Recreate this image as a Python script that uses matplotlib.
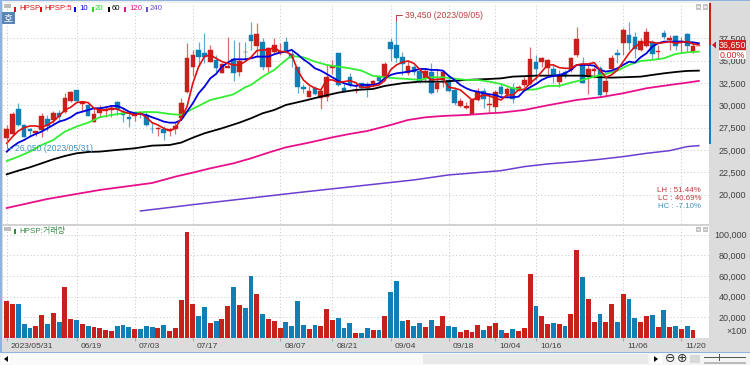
import matplotlib
matplotlib.use("Agg")
import matplotlib.pyplot as plt
import numpy as np
from matplotlib.patches import Rectangle, Polygon
from matplotlib.transforms import Affine2D, ScaledTranslation
from matplotlib.ticker import FuncFormatter

plt.rcParams['font.family'] = ['Liberation Sans', 'Noto Sans CJK KR', 'DejaVu Sans']

directions = ("rrbbbrrbrb" "rrbrbrrrrb" "bbrbbbrbrr" "rrrbbrbrrb" "rbbrbrrrbb" "bbrbrrrbbb"
              "rbbrbrbbbr" "bbrbrrbbrr" "rrbrrbrbrr" "rbrrbrbrrb" "rrbrrbrbbr" "rbrbrbrbrr")

highs = [27800,29300,30300,27910,27430,27170,29110,28920,29410,29480,
         31420,31650,31720,30490,30150,29670,30040,29780,29930,30490,
         29670,29290,29180,29410,29290,28180,27620,27690,27430,27990,
         30860,36940,36200,37130,38060,36750,35640,34700,37610,37310,
         37130,37130,39290,39250,37500,36570,37500,36940,37610,36200,
         34330,32390,32170,32170,31790,34520,35080,35900,32470,33660,
         32650,32540,32650,32840,33400,34890,37500,39450,36010,35080,
         34520,34140,34140,34780,33960,33960,33400,32020,30790,30410,
         30790,31910,31910,31160,31720,32470,32020,32470,32280,33290,
         36570,35640,35450,35150,34520,33960,33960,35380,38730,35450,
         34520,34260,34400,33290,35640,36270,38620,39370,38250,37500,
         38620,37310,36750,38430,37870,37870,37610,38060,36940,36650]
body_tops = [27320,29000,29550,27800,27360,27090,28810,28470,29110,29110,
             30860,31500,31680,30410,30000,29000,29670,29560,29670,30380,
             29110,28740,29000,29180,28920,27390,27470,27390,27320,27690,
             30300,35260,35670,36200,35900,36200,35080,34590,34400,35230,
             35000,36010,37870,37990,37130,36380,36750,36120,37090,35710,
             34260,32020,31650,31910,31650,33140,34440,35820,31910,33140,
             31720,32470,32390,32730,33140,34630,37090,36720,35380,34440,
             34260,33880,33880,33730,32540,33770,32840,31720,30530,29930,
             30600,31530,31650,30150,31530,32020,31790,31910,32020,32840,
             35230,34890,35300,35080,34030,33400,33730,35260,37430,34630,
             34030,34030,34140,32760,35260,35820,38430,37870,37610,37240,
             38170,37050,36120,38060,37500,37720,37240,37990,36640,36650]
body_bottoms = [26300,26760,27800,26500,27170,26910,27240,27690,28360,28740,
                29220,30490,30490,30150,28850,28180,29180,29410,29480,29590,
                28920,28510,28810,29030,27800,27320,27320,26870,27130,27320,
                28550,31500,34330,35450,35450,34850,34140,33620,34220,33660,
                33770,35930,37240,36640,34260,34260,36010,35820,36010,35260,
                32020,31870,30970,31270,30790,30970,34220,32280,31650,32280,
                31610,31910,31910,32280,32760,33140,36310,35340,34590,33580,
                33770,32760,33020,31350,31790,32840,31610,30230,29930,29670,
                29030,30600,30680,30040,29780,31270,31270,30680,31720,32280,
                32390,34070,34890,34140,33400,32580,33290,33960,35640,32540,
                33140,33810,31120,31500,34070,35670,36940,37020,36310,36200,
                36680,35750,35930,37610,37310,36680,37170,36640,36010,36600]
lows = [26050,26680,27690,26450,26610,26570,26420,27170,28060,28180,
        29110,30410,30410,29290,28810,28100,28740,28660,28740,28920,
        28180,27620,28290,28550,27690,26870,26570,26120,26570,26760,
        28360,31350,33290,34400,34700,34810,33770,33580,34140,32760,
        33290,35080,36200,35450,33960,33770,35820,35640,35820,34260,
        31350,31420,30900,31160,29560,30490,33510,32170,31530,32020,
        31420,31790,30900,32020,32470,32840,35000,34890,33400,33400,
        33400,32470,32650,31270,31530,32020,31530,30040,29850,29560,
        29000,30530,29670,29180,29290,30970,30790,30300,31650,32020,
        32280,32840,34330,33400,32470,32020,33020,33770,35450,32470,
        31230,33020,30970,30900,33960,34700,35640,36200,35260,36120,
        36570,35190,35260,37390,36200,36200,36010,36010,35820,36650]
volumes = [35750,32500,32500,13300,9100,11700,22100,13300,24000,15300,
           49000,18200,16900,13300,11700,10400,9100,7150,6200,11000,
           12000,10400,8450,8450,11000,10400,9750,12000,6200,9750,
           36700,103000,32500,21450,29600,14600,16250,18200,30500,49000,
           31850,28600,60000,42500,22750,18500,15900,9750,15300,11700,
           35750,12350,8450,12350,11000,27600,17200,18850,9750,14600,
           4900,4900,9750,7800,7150,21450,44850,54600,15900,16900,
           11000,14000,10400,17200,11700,20800,11000,10400,5500,7150,
           5500,12350,7150,11000,14000,7800,4900,8450,6800,9100,
           61400,30500,20800,13300,14600,13300,11000,23400,85500,59000,
           37400,15300,23400,15300,33000,15300,42000,38000,19200,15300,
           21450,22100,10400,27000,10400,11000,8450,11000,7800,0]

ma5 = [25750,26500,27130,27500,27690,27690,27540,27800,28180,28810,
       29480,29780,30300,30410,30300,29670,29480,29480,29670,29560,
       29290,29110,28920,29110,28660,28060,27800,27430,27170,27430,
       28550,29850,32470,34330,35450,35640,35260,34890,34700,34520,
       34520,34890,35380,36120,36200,36200,36490,36010,36010,35640,
       33960,32840,32280,31910,31720,32840,32840,32580,32650,32760,
       32540,32020,32020,32170,32280,32760,33960,34520,34820,34960,
       34700,34030,33400,32840,32910,32950,32020,31910,31720,31160,
       30600,30900,31160,31050,30790,30600,31160,31160,31720,31790,
       32470,33020,33770,34520,34520,34220,34140,34140,34520,34630,
       34630,34780,33960,33140,33400,33960,34890,35820,36570,36940,
       37130,37050,36940,37020,37130,36940,37050,37130,36870,36760]
ma10 = [24820,25380,25830,26120,26500,26800,27060,27430,27800,28180,
        28360,28660,29110,29290,29480,29670,29670,29780,29930,29930,
        29670,29290,29110,29030,28920,28660,28440,28180,28060,28060,
        28360,29290,30230,31350,32090,33020,33510,34330,34780,35150,
        35150,35150,35260,35450,35450,35450,35710,35900,36010,36200,
        35710,35150,34700,34140,33880,33510,33140,32730,32470,32280,
        32170,32280,32280,32280,32470,33020,33400,33580,33660,33770,
        33880,34070,34070,33960,33960,33880,33290,32840,32280,31910,
        31650,31530,31350,31230,31160,30900,30900,30900,30970,31650,
        32020,32390,32840,33140,33290,33400,33580,33960,34520,34520,
        34520,34440,33960,33770,33880,34140,34520,34890,34780,35380,
        35820,36570,36940,37130,37130,37130,37130,37050,37050,36940]

ma20_idx = [0,2,4,6,8,10,12,14,16,18,20,22,24,26,28,30,31,33,35,37,39,41,42,
            44,46,48,49,51,53,55,57,59,61,63,65,67,69,71,73,75,77,79,81,83,85,
            87,89,91,93,95,97,99,101,103,105,107,109,111,113,115,117,119]
ma20 = [23770,24260,24820,25560,26120,27060,27620,28060,28660,28920,29110,29180,29260,29220,29030,28920,29290,29930,30600,30900,31230,32020,32280,
        33210,33960,35080,35520,35380,34890,34520,34330,34140,33880,33290,33140,33020,32950,32840,33140,33140,32990,32840,32840,32650,32390,
        31910,31720,31790,32170,32170,32540,32840,33210,33510,33880,34520,34960,35080,35260,35750,35930,36010]

ma60_idx = [0,2,4,6,8,10,12,14,16,19,22,25,28,30,32,34,37,40,42,
            44,46,48,51,54,57,60,63,65,68,71,75,79,83,85,
            87,91,95,99,102,104,106,109,111,113,115,117,119]
ma60 = [22280,22690,23070,23510,23960,24330,24630,24780,24820,25010,25190,25490,25560,25830,26380,26870,27430,28060,28550,
        29110,29480,30040,30490,30970,31420,31720,31830,32170,32470,32650,32650,32840,32950,33020,
        33210,33320,33320,33320,33140,33100,33140,33210,33400,33580,33730,33850,33880]

ma120_idx = [0,7,16,25,29,32,35,39,42,45,48,52,56,59,62,66,69,72,75,79,83,85,
             89,93,98,102,106,110,114,117,119]
ma120 = [18510,19520,20530,21310,22020,22470,22950,23510,24070,24710,25300,25830,26420,26800,27130,27800,28360,28660,28810,28920,29110,29180,
         29480,30000,30600,30900,31350,31910,32280,32540,32730]

ma240_idx = [23,33,50,70,76,85,89,93,98,102,106,110,114,117,119]
ma240 = [18180,18960,20230,21650,22210,22690,23140,23440,23700,23960,24260,24630,24930,25380,25490]

price_ticks = [20000,22500,25000,27500,30000,32500,35000,37500]
volume_ticks = [20000,40000,60000,80000,100000]
date_ticks = [0,12,22,32,47,56,66,76,84,91,106,116]
date_labels = ['2023/05/31','06/19','07/03','07/17','08/07','08/21','09/04','09/18','10/04','10/16','11/06','11/20']
legend_names = ['HPSP','HPSP:5','10','20','60','120','240']

RED, BLUE = '#c8201a', '#0f7fb5'
PAN = '#dcdcdc'
W, H = 750, 365
fig = plt.figure(figsize=(7.5, 3.65), dpi=100, facecolor=PAN)
PX = Affine2D().scale(1/W, -1/H).translate(0, 1) + fig.transFigure

def rect(x0, y0, x1, y1, color, z=5, **kw):
    fig.add_artist(Rectangle((x0, y0), x1-x0, y1-y0, transform=PX, facecolor=color, edgecolor='none', zorder=z, **kw))

def label(x, y, s, color='#404040', size=6.2, ha='left', z=6, **kw):
    fig.text(x, y, s, transform=PX, color=color, fontsize=size, ha=ha, va='center', zorder=z, **kw)

def make_axes(top, bottom):
    ax = fig.add_axes([3/W, 1-bottom/H, (709-3)/W, (bottom-top)/H], facecolor='white')
    for s in ax.spines.values():
        s.set_visible(False)
    ax.set_xlim(-0.64, 120.75)
    ax.yaxis.tick_right()
    ax.set_axisbelow(True)
    ax.grid(True, color='#c4c4c4', lw=0.7, ls=(0, (1, 2.5)))
    ax.set_xticks(date_ticks)
    return ax

ax = make_axes(3, 224)
axv = make_axes(226, 338)
ax.set_ylim(16720, 41450)
axv.set_ylim(-290, 108450)

x = np.arange(len(highs))
colors = [RED if d == 'r' else BLUE for d in directions]
ax.vlines(x, lows, highs, colors=colors, lw=0.9, alpha=0.65, zorder=2)
ax.bar(x, np.array(body_tops)-np.array(body_bottoms), bottom=body_bottoms, width=0.8,
       color=colors, edgecolor=colors, lw=0.3, zorder=3)
for xs, ys, c, lw, z in [(ma240_idx, ma240, '#6a3fd0', 1.1, 4),
                         (ma120_idx, ma120, '#e8108a', 1.3, 4),
                         (ma60_idx, ma60, '#000000', 1.3, 4),
                         (ma20_idx, ma20, '#33ee33', 1.3, 4),
                         (x, ma10, '#0000dd', 1.3, 5),
                         (x, ma5, '#e01010', 1.2, 6)]:
    ax.plot(xs, ys, color=c, lw=lw, zorder=z, solid_joinstyle='round')

axv.bar(x, volumes, width=0.84, color=colors, edgecolor='none', zorder=3)

# price and volume axis labels
ax.set_yticks(price_ticks)
ax.yaxis.set_major_formatter(FuncFormatter(lambda v, _: f'{int(v):,}'))
ax.tick_params(axis='y', length=0, pad=27, labelsize=6.5, labelcolor='#404040')
ax.tick_params(axis='x', length=0, labelbottom=False)
for t in ax.get_yticklabels():
    t.set_ha('right')
axv.set_yticks(volume_ticks)
axv.yaxis.set_major_formatter(FuncFormatter(lambda v, _: f'{int(v):,}'))
axv.tick_params(axis='y', length=0, pad=27, labelsize=6.5, labelcolor='#404040')
for t in axv.get_yticklabels():
    t.set_ha('right')
axv.set_xticklabels(date_labels, fontsize=6.1, color='#404040', ha='left')
axv.tick_params(axis='x', length=2, width=0.6, color='#999999', pad=1.5)
off = ScaledTranslation(3/72, 0, fig.dpi_scale_trans)
for t in axv.get_xticklabels():
    t.set_transform(t.get_transform() + off)

# high / low notes
ax.annotate('39,450 (2023/09/05)', xy=(67, 39450), xytext=(6, 4.2), textcoords='offset points',
            color='#b84040', fontsize=6.2, va='center', zorder=8,
            arrowprops=dict(arrowstyle='-', color='#b84040', lw=0.7, shrinkA=0, shrinkB=0,
                            connectionstyle='angle,angleA=0,angleB=90,rad=0'))
ax.annotate('26,050 (2023/05/31)', xy=(0, 26050), xytext=(6, -5.5), textcoords='offset points',
            color='#3f93c4', fontsize=6.2, va='center', zorder=8,
            arrowprops=dict(arrowstyle='-', color='#3f93c4', lw=0.7, shrinkA=0, shrinkB=0,
                            connectionstyle='angle,angleA=0,angleB=90,rad=0'))

# frame pieces
rect(0, 0, 750, 1.2, '#8db4e0')
rect(0, 0, 2, 352, '#8db4e0')
rect(2, 1.2, 709, 3, '#efefef')
rect(2, 224, 709, 226, '#d2d2d2')
rect(0, 352, 750, 353, '#8db4e0')
rect(0, 353, 750, 365, '#f4f4f4')

# legends
lx = [15, 41, 75, 93, 109, 125, 147]
tx = [19, 44, 79, 95, 112, 129, 150]
lc = ['#d01818', '#e01010', '#0000dd', '#22dd22', '#000000', '#e8108a', '#6a4fd0']
for a, b, s, c in zip(lx, tx, legend_names, lc):
    rect(a-1, 6.5, a+1, 11.5, c)
    label(b, 9, s, color=c, size=5.6)
rect(4, 4, 11, 8, '#bdbdbd')
rect(2, 12, 15, 24, '#5b85b5')
label(8.5, 18, '호', color='white', size=7, ha='center', family='Noto Sans CJK KR')
rect(4, 227, 11, 231, '#bdbdbd')
rect(14, 229, 16, 234, '#2f8a3a')
label(19, 231.5, 'HPSP:거래량', color='#3a8a4a', size=5.8)

for px0, top in [(695.5, 4), (702.5, 4), (695.5, 226.5), (702.5, 226.5)]:
    rect(px0, top, px0+5.5, top+5.5, '#c4c4c4')
    rect(px0+1.5, top+2, px0+4, top+3.5, '#eeeeee')

# stat notes
label(701, 191, 'LH : 51.44%', color='#c03a3a', size=5.7, ha='right')
label(701, 199, 'LC : 40.69%', color='#c03a3a', size=5.7, ha='right')
label(701, 207, 'HC : -7.10%', color='#3f93c4', size=5.7, ha='right')

# right side bar and current price
rect(709, 3, 711, 45, '#c8201a')
rect(709, 45, 711, 144, '#1a7fb8')
fig.add_artist(Polygon([(712, 45), (716, 41.5), (716, 48.5)], transform=PX, facecolor='#c8201a', edgecolor='none', zorder=6))
rect(719, 40, 746, 49.5, '#d42020')
label(732.5, 45, '36,650', color='white', size=6.4, ha='center', z=7)
rect(719, 51, 746, 59, 'white')
label(732.5, 55, '0.00%', color='#d42020', size=6.4, ha='center', z=7)
label(747, 331, '×100', size=6.5, ha='right')

# scroll bar
rect(1, 354, 11, 364, 'white')
fig.add_artist(Polygon([(4, 359), (8, 356), (8, 362)], transform=PX, facecolor='black', zorder=6))
rect(12, 353, 648, 365, '#fafafa')
rect(423, 354, 648, 364, '#e9e9e9')
rect(650, 354, 662, 364, 'white')
fig.add_artist(Polygon([(658, 359), (654, 356), (654, 362)], transform=PX, facecolor='black', zorder=6))
label(670, 358, '⊖', color='#333333', size=9, ha='center', family='DejaVu Sans')
label(682, 358, '⊕', color='#333333', size=9, ha='center', family='DejaVu Sans')
rect(690, 355, 700, 363, '#d8d8d8')
rect(704, 357, 746, 358, '#555555')
rect(719, 354, 720, 361, '#555555')
rect(704, 362, 746, 364, '#bbbbbb')

fig.savefig('out.png', dpi=100, facecolor=fig.get_facecolor())
